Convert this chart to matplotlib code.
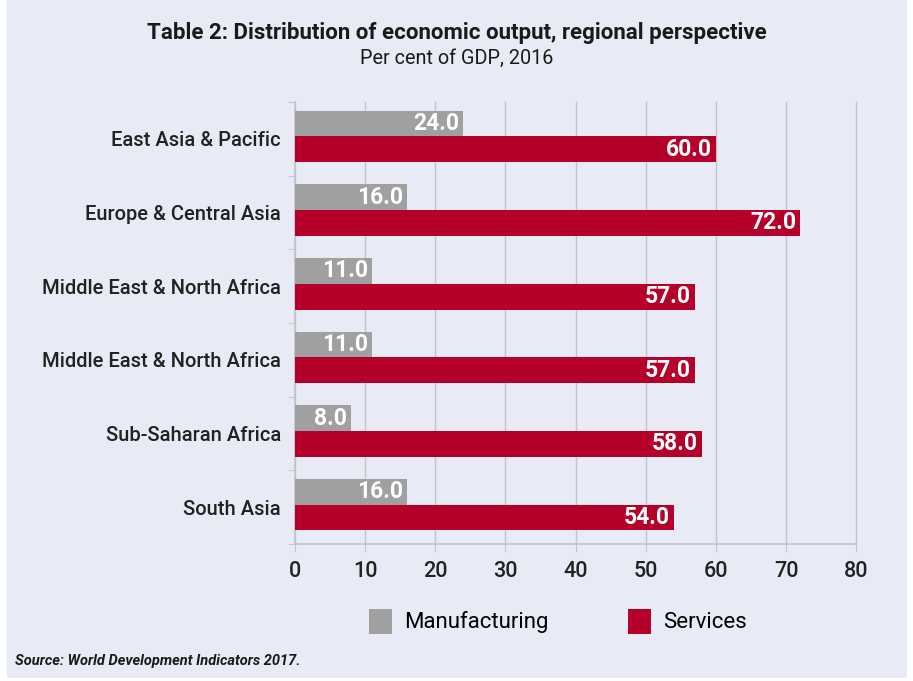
import numpy as np
import matplotlib.pyplot as plt
from matplotlib.patches import Rectangle

plt.rcParams['font.family'] = ['Roboto', 'DejaVu Sans']

# ============ DADOS ============
regioes = ['East Asia & Pacific', 'Europe & Central Asia', 'Middle East & North Africa',
           'Middle East & North Africa', 'Sub-Saharan Africa', 'South Asia']
manufatura = [24.0, 16.0, 11.0, 11.0, 8.0, 16.0]
servicos = [60.0, 72.0, 57.0, 57.0, 58.0, 54.0]
xticks = [0, 10, 20, 30, 40, 50, 60, 70, 80]

fundo = '#e8ebf6'
cinza = '#a0a0a0'
vermelho = '#b50029'
linha = '#c4c4c8'

fig = plt.figure(figsize=(9.13, 6.81), dpi=100)
fig.patch.set_facecolor('white')
fig.patches.append(Rectangle((0.008, 0.004), 0.985, 0.996, transform=fig.transFigure,
                             facecolor=fundo, edgecolor='none', zorder=-10))

ax = fig.add_axes([0.323, 0.201, 0.615, 0.649])
ax.set_facecolor(fundo)
ax.patch.set_alpha(0)

y = np.arange(len(regioes))
h = 0.35
b1 = ax.barh(y - 0.21, manufatura, height=h, color=cinza, zorder=3)
b2 = ax.barh(y + 0.14, servicos, height=h, color=vermelho, zorder=3)

for barras in (b1, b2):
    for r in barras:
        ax.annotate(f'{r.get_width():.1f}', (r.get_width(), r.get_y() + r.get_height() / 2),
                    xytext=(-3, 0), textcoords='offset points', ha='right', va='center',
                    color='white', fontsize=16.5, fontweight='bold', zorder=4)

ax.set_xlim(0, 80)
ax.set_ylim(len(regioes) - 0.5, -0.5)
ax.set_xticks(xticks)
ax.set_xticklabels([str(t) for t in xticks], fontsize=15.5, color='#222222', fontweight='medium')
ax.set_yticks(y)
ax.set_yticklabels(regioes, fontsize=14.5, color='#222222', fontweight='medium')
ax.set_yticks(np.arange(-0.5, len(regioes), 1), minor=True)
ax.tick_params(axis='y', which='major', length=0, pad=10)
ax.tick_params(axis='y', which='minor', length=5, color=linha, direction='out')
ax.tick_params(axis='x', length=6, color=linha, direction='out', pad=6)
ax.grid(axis='x', color=linha, linewidth=1, zorder=0)
for gl in ax.xaxis.get_gridlines():
    gl.set_clip_on(False)
for s in ['top', 'right']:
    ax.spines[s].set_visible(False)
for s in ['left', 'bottom']:
    ax.spines[s].set_color(linha)
    ax.spines[s].set_linewidth(1.2)

fig.text(0.5, 0.952, 'Table 2: Distribution of economic output, regional perspective',
         ha='center', va='center', fontsize=16, fontweight='bold', color='#1a1a1a')
fig.text(0.5, 0.914, 'Per cent of GDP, 2016', ha='center', va='center', fontsize=14.3, color='#1a1a1a')

fig.legend([b1, b2], ['Manufacturing', 'Services'], loc='center', bbox_to_anchor=(0.611, 0.088),
           ncol=2, frameon=False, fontsize=16, handlelength=1.05, handleheight=1.35,
           columnspacing=3.55, handletextpad=0.55)

fig.text(0.016, 0.03, 'Source: World Development Indicators 2017.', ha='left', va='center',
         fontsize=10.5, fontweight='bold', fontstyle='italic', color='#1a1a1a')

fig.savefig('out.png', dpi=100, facecolor=fig.get_facecolor())
